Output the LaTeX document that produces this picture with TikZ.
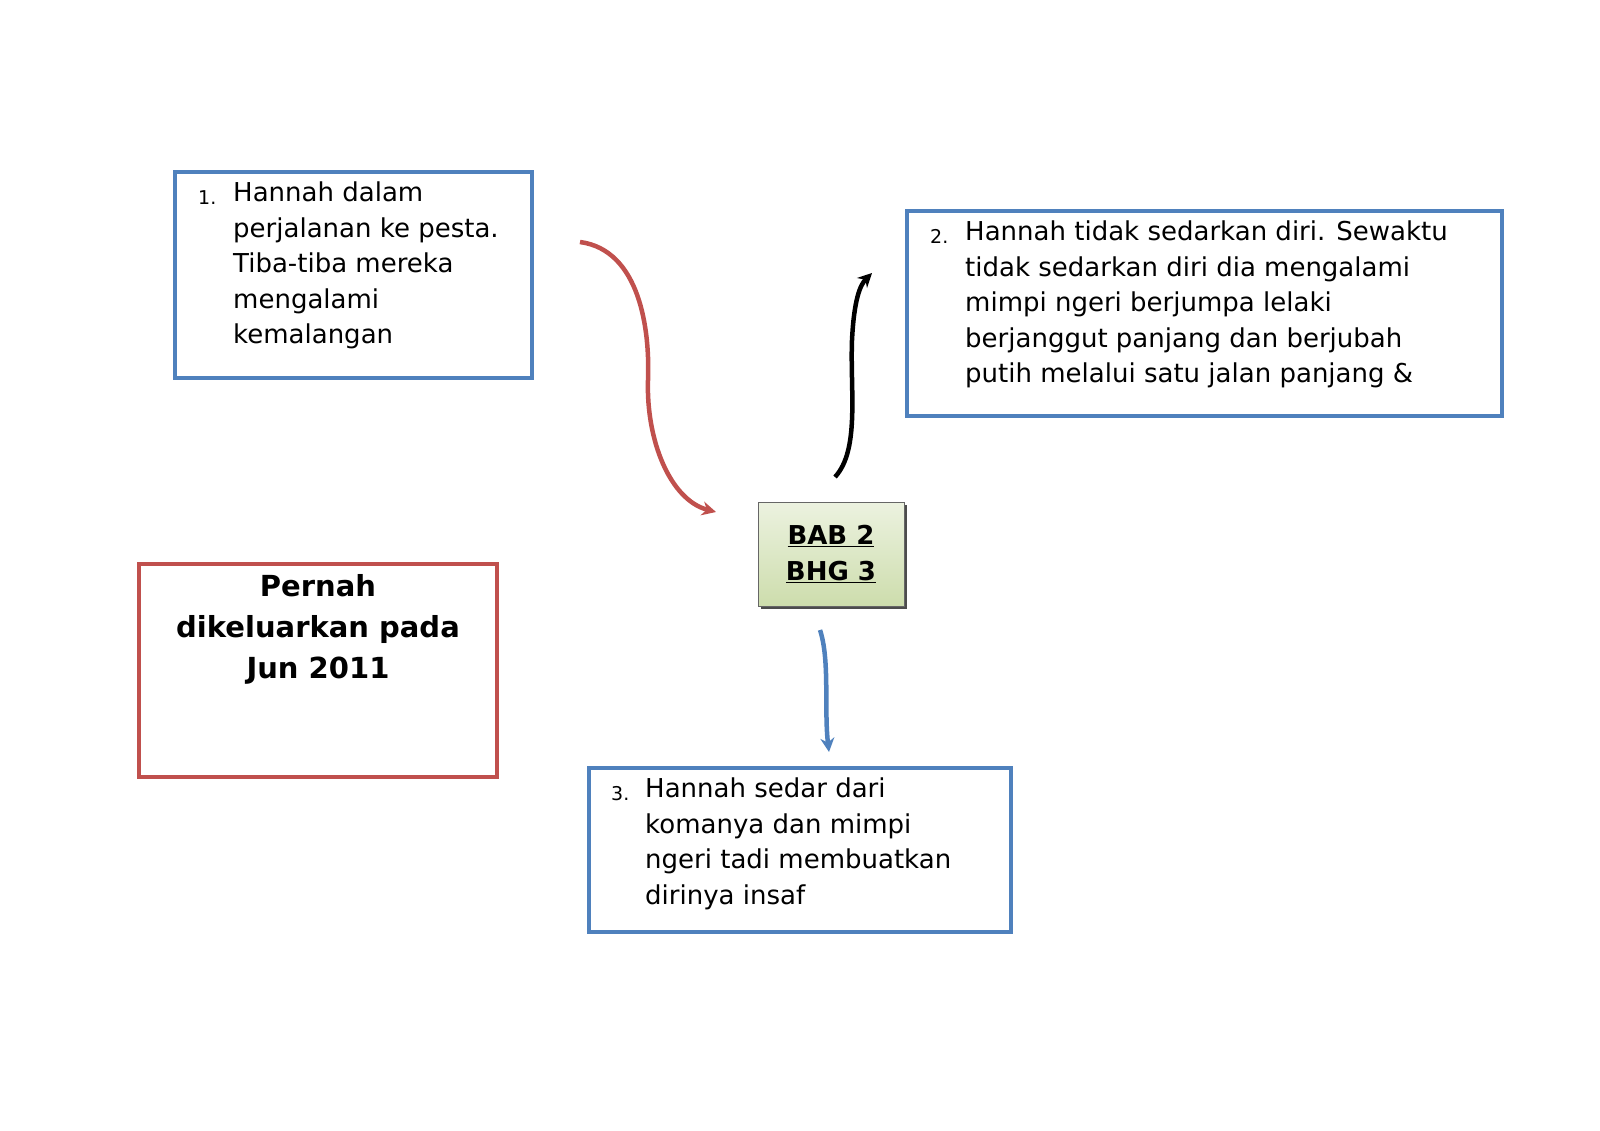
\documentclass[tikz,border=0pt]{standalone}
\usepackage{fontspec}
\setmainfont{DejaVu Sans}
\usetikzlibrary{arrows.meta}
\definecolor{bbox}{RGB}{79,129,189}
\definecolor{rbox}{RGB}{192,80,77}
\definecolor{gtop}{RGB}{236,242,224}
\definecolor{gbot}{RGB}{205,221,172}
\tikzset{
 box/.style={draw=bbox,line width=3.5pt},
 txt/.style={anchor=north west,align=left,font=\fontsize{26}{35.5}\selectfont,inner sep=0pt},
 num/.style={anchor=north west,font=\fontsize{19}{24}\selectfont,inner sep=0pt},
 conn/.style={line width=4.5pt,-{Stealth[length=14pt,width=14pt]}}
}
\begin{document}
\begin{tikzpicture}[x=1pt,y=-1pt]
\useasboundingbox (0,0) rectangle (1600,1130);
\draw[box] (175,172) rectangle (532,378);
\node[num] (n1) at (198,190) {1.};
\node[txt] (t1) at (233,182) {Hannah dalam\\perjalanan ke pesta.\\Tiba-tiba mereka\\mengalami\\kemalangan};
\draw[box] (907,211) rectangle (1502,416);
\node[num] (n2) at (930,229) {2.};
\begin{scope}
\clip (907,211) rectangle (1502,405);
\node[txt] (t2) at (965,221) {Hannah tidak sedarkan diri. Sewaktu\\tidak sedarkan diri dia mengalami\\mimpi ngeri berjumpa lelaki\\berjanggut panjang dan berjubah\\putih melalui satu jalan panjang \&};
\end{scope}
\draw[box] (589,768) rectangle (1011,932);
\node[num] (n3) at (611,786) {3.};
\node[txt] (t3) at (645,778) {Hannah sedar dari\\komanya dan mimpi\\ngeri tadi membuatkan\\dirinya insaf};
\draw[draw=rbox,line width=3.5pt] (139,564) rectangle (497,777);
\node[anchor=north,align=center,font=\fontsize{29}{41}\selectfont\bfseries,inner sep=0pt] (r) at (318,574) {Pernah\\dikeluarkan pada\\Jun 2011};
\fill[black!70] (761,505) rectangle (907,609);
\shade[top color=gtop,bottom color=gbot,draw=black!60,line width=0.8pt] (758,502) rectangle (904,606);
\node[align=center,font=\fontsize{26}{36}\selectfont\bfseries,inner sep=0pt] (bab) at (831,554) {\underline{BAB 2}\\\underline{BHG 3}};
\coordinate (a1) at (580,242);
\coordinate (a2) at (716,512);
\draw[conn,draw=rbox] (a1) .. controls (640,250) and (650,330) .. (648,380) .. controls (646,440) and (670,500) .. (a2);
\coordinate (b1) at (835,477);
\coordinate (b2) at (872,273);
\draw[conn,draw=black] (b1) .. controls (860,450) and (850,390) .. (852,340) .. controls (854,300) and (860,285) .. (b2);
\coordinate (c1) at (820,630);
\coordinate (c2) at (829,752);
\draw[conn,draw=bbox] (c1) .. controls (830,660) and (824,710) .. (c2);
\end{tikzpicture}
\end{document}
